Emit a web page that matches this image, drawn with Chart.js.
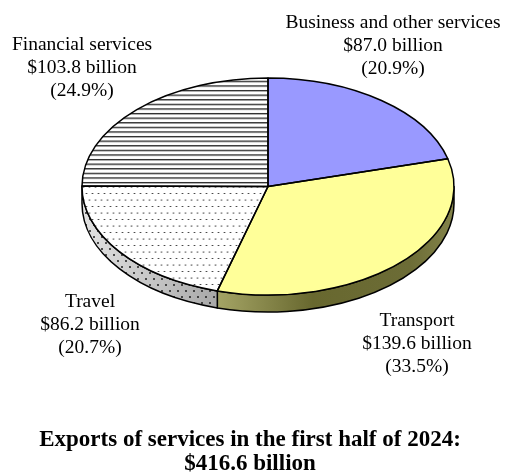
<!DOCTYPE html>
<html>
<head>
<meta charset="utf-8">
<script src="https://cdn.jsdelivr.net/npm/chart.js@4/dist/chart.umd.min.js"></script>
<style>
  html, body { margin: 0; padding: 0; background: #ffffff; }
  #wrap { width: 505px; height: 473px; }
</style>
</head>
<body>
<div id="wrap"><canvas id="c" width="505" height="473"></canvas></div>
<script>
// Exports of services, first half of 2024 (billions of dollars)
const categories = ['Business and other services', 'Transport', 'Travel', 'Financial services'];
const exportValues = [87.0, 139.6, 86.2, 103.8];
const titleLines = ['Exports of services in the first half of 2024:', '$416.6 billion'];

// Appearance of each slice: top face fill kind, side wall gradient
const faceStyles = ['#9999ff', '#ffff99', 'dots', 'lines'];
const wallGradients = [
  [[0, '#6b6bb0'], [1, '#5555a0']],
  [[0, '#c2c27a'], [0.37, '#a3a364'], [0.62, '#68682f'], [0.88, '#6c6c36'], [1, '#84844a']],
  [[0, '#e2e2e2'], [0.2, '#c4c4c4'], [0.37, '#a6a6a6'], [1, '#909090']],
  [[0, '#d0d0d0'], [1, '#a0a0a0']]
];
const labelAnchors = [
  { x: 393, y: 28 },
  { x: 417, y: 326 },
  { x: 90, y: 307 },
  { x: 82, y: 50 }
];

// Tilted-pie geometry
const TILT = 108.5 / 186;   // vertical squash of the pie disc
const CENTER_Y = 186.5;     // on-canvas centre of the top face
const DEPTH = 17;           // thickness of the disc

const canvas = document.getElementById('c');
const ctx = canvas.getContext('2d');

function makeTile(w, h, bg, paint) {
  const t = document.createElement('canvas');
  t.width = w; t.height = h;
  const g = t.getContext('2d');
  if (bg) { g.fillStyle = bg; g.fillRect(0, 0, w, h); }
  paint(g);
  return t;
}

// horizontal hatching
const lineTile = makeTile(8, 5, '#ffffff', g => {
  g.fillStyle = '#262626'; g.fillRect(0, 0, 8, 1);
  g.fillStyle = 'rgba(38,38,38,0.45)'; g.fillRect(0, 1, 8, 1);
});
// staggered dot grid
const dotTile = makeTile(12, 26, '#ffffff', g => {
  g.fillStyle = '#3a3a3a';
  g.beginPath(); g.arc(2.5, 4, 1.05, 0, Math.PI * 2); g.fill();
  g.beginPath(); g.arc(8.5, 4, 1.05, 0, Math.PI * 2); g.fill();
  g.beginPath(); g.arc(5.5, 17, 1.05, 0, Math.PI * 2); g.fill();
  g.beginPath(); g.arc(11.5, 17, 1.05, 0, Math.PI * 2); g.fill();
  g.beginPath(); g.arc(-0.5, 17, 1.05, 0, Math.PI * 2); g.fill();
});
// dots laid over the grey side wall
const wallDotTile = makeTile(8, 12, null, g => {
  g.fillStyle = '#1e1e1e';
  g.beginPath(); g.arc(2, 3, 1, 0, Math.PI * 2); g.fill();
  g.beginPath(); g.arc(6, 9, 1, 0, Math.PI * 2); g.fill();
});

const linePattern = ctx.createPattern(lineTile, 'repeat');
linePattern.setTransform(new DOMMatrix([1, 0, 0, 0.92 / TILT, 0, 0]));
const dotPattern = ctx.createPattern(dotTile, 'repeat');
dotPattern.setTransform(new DOMMatrix([1, 0, 0, 0.5 / TILT, 0, 0]));
const wallDotPattern = ctx.createPattern(wallDotTile, 'repeat');

const faceFills = faceStyles.map(s => s === 'lines' ? linePattern : s === 'dots' ? dotPattern : s);

function wallPath(c, cx, rx, ry, a1, a2) {
  c.beginPath();
  c.ellipse(cx, CENTER_Y, rx, ry, 0, a1, a2, false);
  c.lineTo(cx + rx * Math.cos(a2), CENTER_Y + DEPTH + ry * Math.sin(a2));
  c.ellipse(cx, CENTER_Y + DEPTH, rx, ry, 0, a2, a1, true);
  c.closePath();
}

const tiltedPie = {
  id: 'tiltedPie',
  beforeDatasetsDraw(chart) {
    const c = chart.ctx;
    const arcs = chart.getDatasetMeta(0).data;
    const cx = arcs[0].x, rx = arcs[0].outerRadius, ry = rx * TILT;
    // side walls of the front half of the disc
    arcs.forEach((arc, i) => {
      const a1 = Math.max(arc.startAngle, 0);
      const a2 = Math.min(arc.endAngle, Math.PI);
      if (a2 - a1 <= 0.001) return;
      const grad = c.createLinearGradient(cx - rx, 0, cx + rx, 0);
      wallGradients[i].forEach(([p, col]) => grad.addColorStop(p, col));
      wallPath(c, cx, rx, ry, a1, a2);
      c.fillStyle = grad; c.fill();
      if (faceStyles[i] === 'dots') { c.fillStyle = wallDotPattern; c.fill(); }
      c.lineWidth = 1.5; c.strokeStyle = '#000000'; c.lineJoin = 'round';
      c.stroke();
    });
    // squash the disc drawn by the pie controller into the tilted top face
    c.save();
    c.translate(cx, CENTER_Y);
    c.scale(1, TILT);
    c.translate(-cx, -arcs[0].y);
  },
  afterDatasetsDraw(chart) {
    const c = chart.ctx;
    c.restore();
    const arcs = chart.getDatasetMeta(0).data;
    const cx = arcs[0].x, rx = arcs[0].outerRadius, ry = rx * TILT;
    c.lineWidth = 1.5; c.strokeStyle = '#000000'; c.lineJoin = 'round';
    arcs.forEach(arc => {
      c.beginPath();
      c.moveTo(cx, CENTER_Y);
      c.ellipse(cx, CENTER_Y, rx, ry, 0, arc.startAngle, arc.endAngle, false);
      c.closePath();
      c.stroke();
    });
  },
  afterDraw(chart) {
    const c = chart.ctx;
    const total = exportValues.reduce((a, b) => a + b, 0);
    c.save();
    c.fillStyle = '#000000';
    c.textAlign = 'center';
    c.textBaseline = 'alphabetic';
    c.font = '19.5px "Liberation Serif"';
    categories.forEach((name, i) => {
      const v = exportValues[i];
      const lines = [name, '$' + v.toFixed(1) + ' billion', '(' + (v / total * 100).toFixed(1) + '%)'];
      lines.forEach((t, j) => c.fillText(t, labelAnchors[i].x, labelAnchors[i].y + j * 22.8));
    });
    c.font = 'bold 23px "Liberation Serif"';
    titleLines.forEach((t, j) => c.fillText(t, 250, 446 + j * 24));
    c.restore();
  }
};

new Chart(canvas, {
  type: 'pie',
  data: {
    labels: categories,
    datasets: [{
      data: exportValues,
      backgroundColor: faceFills,
      borderWidth: 0,
      clip: false
    }]
  },
  options: {
    responsive: false,
    animation: false,
    events: [],
    radius: 186,
    layout: { padding: { left: 31, right: 0, top: 0, bottom: 0 } },
    plugins: {
      legend: { display: false },
      tooltip: { enabled: false },
      title: { display: false }
    }
  },
  plugins: [tiltedPie]
});
</script>
</body>
</html>
